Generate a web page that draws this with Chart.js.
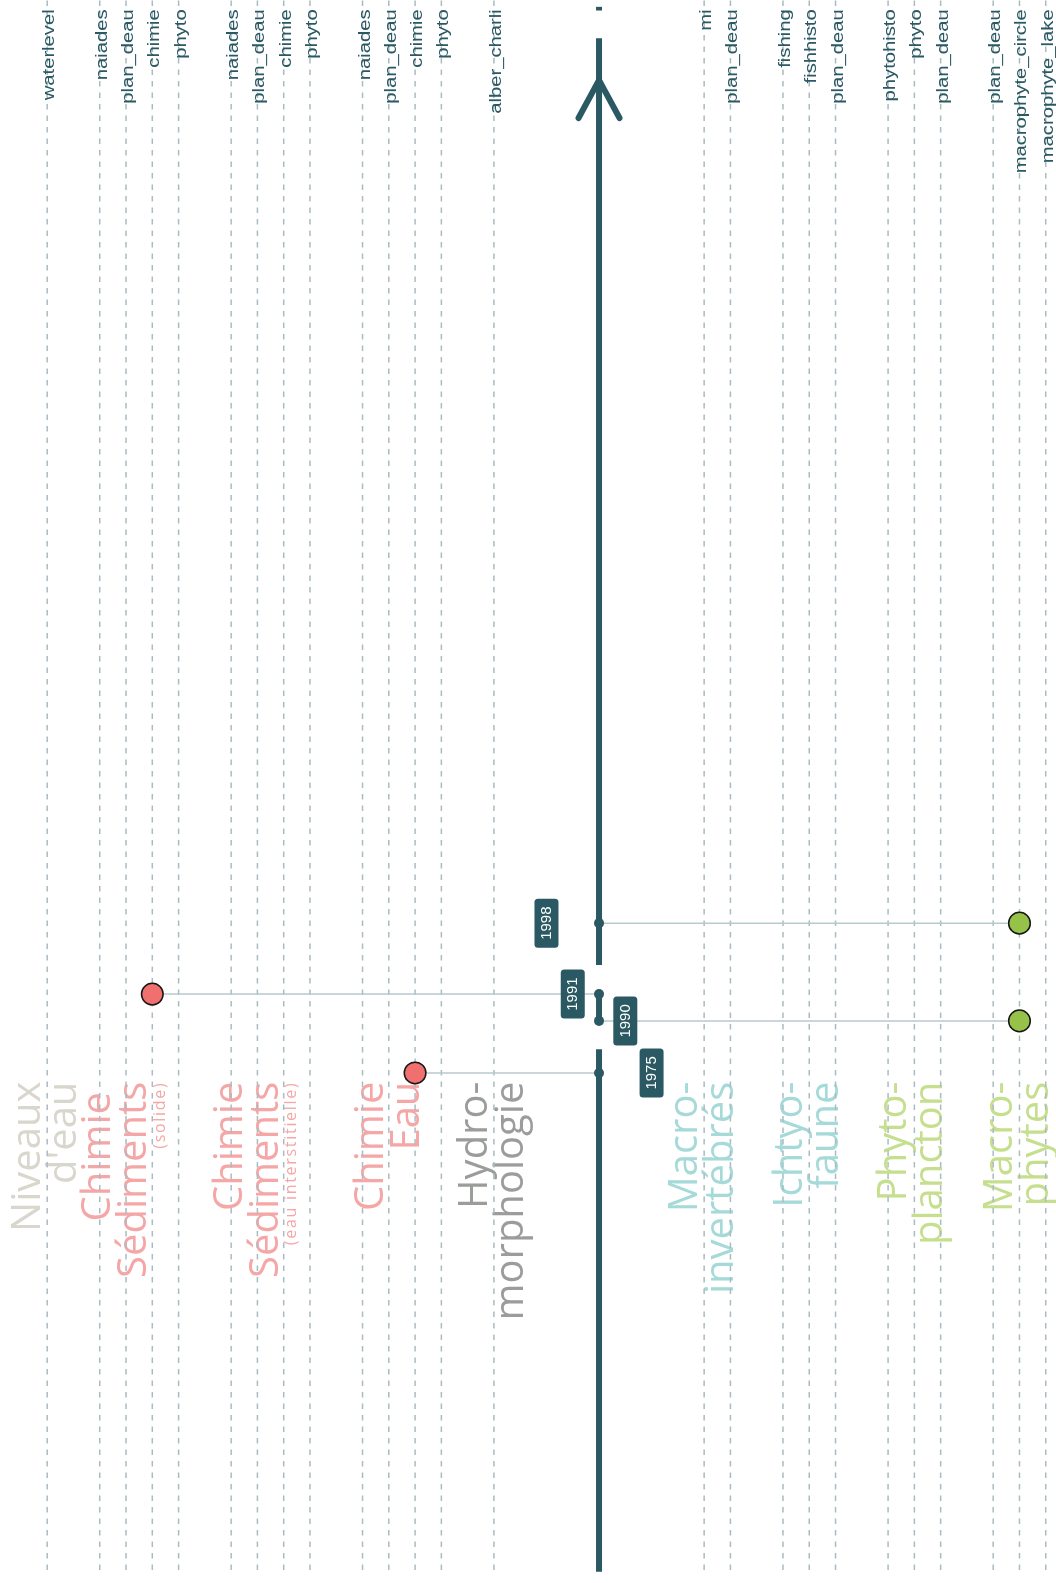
<!DOCTYPE html>
<html>
<head>
<meta charset="utf-8">
<script src="https://cdn.jsdelivr.net/npm/chart.js@4/dist/chart.umd.min.js"></script>
<style>
  html, body { margin: 0; padding: 0; background: #ffffff; }
  #wrap { width: 1056px; height: 1583px; position: relative; }
</style>
</head>
<body>
<div id="wrap"><canvas id="c"></canvas></div>
<script>
// ---------- data ----------
const columnSlots  = [0, 2, 3, 4, 5, 7, 8, 9, 10, 12, 13, 14, 15, 17, 25, 26, 28, 29, 30, 32, 33, 34, 36, 37, 38];
const columnLabels = ['waterlevel', 'naiades', 'plan_deau', 'chimie', 'phyto',
                      'naiades', 'plan_deau', 'chimie', 'phyto',
                      'naiades', 'plan_deau', 'chimie', 'phyto',
                      'alber_charli', 'mi', 'plan_deau',
                      'fishing', 'fishhisto', 'plan_deau',
                      'phytohisto', 'phyto', 'plan_deau',
                      'plan_deau', 'macrophyte_circle', 'macrophyte_lake'];

const eventYears   = ['1998', '1991', '1990', '1975'];
const eventPos     = [25.11, 22.41, 21.39, 19.41];   // position on the (broken) time axis
const eventColumn  = [37, 4, 37, 14];
const eventColors  = ['#97c24a', '#f07070', '#97c24a', '#f07070'];
const yearLabelSlot = [19, 20, 22, 23];

const axisSlot = 21;
const axisSegments = [[0.43, 20.31], [21.39, 22.41], [23.52, 58.78], [59.84, 59.98]];
const arrowApex = 57.19, arrowBase = 55.75, arrowHalf = 0.78;

const groupLines  = [['Niveaux', "d'eau"], ['Chimie ', 'Sédiments'], ['Chimie', 'Sédiments'],
                     ['Chimie', 'Eau'], ['Hydro-', 'morphologie'], ['Macro-', 'invertébrés'],
                     ['Ichtyo-', 'faune'], ['Phyto-', 'plancton'], ['Macro-', 'phytes']];
const groupSlot   = [-0.27, 2.39, 7.40, 12.77, 16.72, 24.71, 28.71, 32.68, 36.70];
const groupColors = ['#d9d7cd', '#f5a6a6', '#f5a6a6', '#f5a6a6', '#9b9d9b',
                     '#a5dad9', '#a5dad9', '#c6df8e', '#c6df8e'];
const subLabels   = ['(solide)', '(eau interstitielle)'];
const subSlot     = [4.47, 9.47];
const groupTopPos = 19.08;

const xMin = -1.796, xMax = 38.39, yMin = 0, yMax = 60.24;
const gridBottom = 0.49, gridTop = 60.24;

// ---------- colours / styles ----------
const AXIS = '#2a5863';
const GRID = '#a9bcc1';
const CONN = '#b9c9cd';

// ---------- datasets ----------
const datasets = [];

datasets.push({
  type: 'scatter', order: 0,
  data: eventPos.map((p, i) => ({ x: eventColumn[i], y: p })),
  pointRadius: 10.8, pointBackgroundColor: eventColors,
  pointBorderColor: '#161616', pointBorderWidth: 1.5, showLine: false
});
datasets.push({
  type: 'scatter', order: 1,
  data: eventPos.map(p => ({ x: axisSlot, y: p })),
  pointRadius: 5, pointBackgroundColor: AXIS, pointBorderWidth: 0, showLine: false
});
axisSegments.forEach(s => datasets.push({
  type: 'line', order: 2,
  data: [{ x: axisSlot, y: s[0] }, { x: axisSlot, y: s[1] }],
  borderColor: AXIS, borderWidth: 6, borderCapStyle: 'butt', pointRadius: 0
}));
datasets.push({
  type: 'line', order: 2,
  data: [{ x: axisSlot - arrowHalf, y: arrowBase }, { x: axisSlot, y: arrowApex }, { x: axisSlot + arrowHalf, y: arrowBase }],
  borderColor: AXIS, borderWidth: 6, borderCapStyle: 'round', borderJoinStyle: 'round', pointRadius: 0
});
eventPos.forEach((p, i) => datasets.push({
  type: 'line', order: 3,
  data: [{ x: axisSlot, y: p }, { x: eventColumn[i], y: p }],
  borderColor: CONN, borderWidth: 1.5, pointRadius: 0
}));
columnSlots.forEach(s => datasets.push({
  type: 'line', order: 4,
  data: [{ x: s, y: gridBottom }, { x: s, y: gridTop }],
  borderColor: GRID, borderWidth: 1.5, borderDash: [5.5, 6], pointRadius: 0
}));

// ---------- text plugins ----------
function vText(ctx, text, x, y, opt) {
  ctx.save();
  ctx.translate(x, y);
  ctx.rotate(-Math.PI / 2);
  if (opt.sx) ctx.scale(opt.sx, 1);
  ctx.font = opt.font;
  ctx.fillStyle = opt.color;
  ctx.textAlign = opt.align || 'right';
  ctx.textBaseline = opt.baseline || 'alphabetic';
  if (opt.spacing) ctx.letterSpacing = opt.spacing;
  ctx.fillText(text, 0, opt.dy || 0);
  ctx.restore();
}

const labelsPlugin = {
  id: 'labels',
  beforeDatasetsDraw(chart) {
    const ctx = chart.ctx, xs = chart.scales.x, ys = chart.scales.y;
    const top = ys.getPixelForValue(groupTopPos);
    groupLines.forEach((lines, i) => {
      const bx = xs.getPixelForValue(groupSlot[i]);
      lines.forEach((t, k) => vText(ctx, t, bx, top,
        { font: '40px "Open Sans"', color: groupColors[i], dy: k * 36.3 }));
    });
    subLabels.forEach((t, i) => vText(ctx, t, xs.getPixelForValue(subSlot[i]), top,
      { font: '16px "Open Sans"', color: '#f5a6a6', spacing: '1.7px' }));
  },
  afterDatasetsDraw(chart) {
    const ctx = chart.ctx, xs = chart.scales.x, ys = chart.scales.y;
    // column labels
    columnSlots.forEach((s, i) => {
      vText(ctx, columnLabels[i], xs.getPixelForValue(s) + 7, 9.3,
        { font: '15.8px "Liberation Sans", Arial, sans-serif', color: AXIS, sx: 1.28 });
    });
    // year boxes
    eventYears.forEach((yr, i) => {
      const cx = xs.getPixelForValue(yearLabelSlot[i]);
      const cy = ys.getPixelForValue(eventPos[i]);
      ctx.save();
      ctx.fillStyle = AXIS;
      ctx.beginPath();
      ctx.roundRect(cx - 12, cy - 24.5, 24, 49, 3.5);
      ctx.fill();
      ctx.restore();
      vText(ctx, yr, cx + 0.5, cy, { font: '15px "Liberation Sans", Arial, sans-serif',
        color: '#ffffff', align: 'center', baseline: 'middle' });
    });
  }
};

Promise.all([
  document.fonts.load('40px "Open Sans"'),
  document.fonts.load('16px "Liberation Sans"')
]).catch(() => {}).then(() => {
  new Chart(document.getElementById('c'), {
    data: { datasets },
    options: {
      responsive: true, maintainAspectRatio: false, animation: false,
      layout: { padding: 0, autoPadding: false },
      plugins: { legend: { display: false }, tooltip: { enabled: false } },
      scales: {
        x: { type: 'linear', min: xMin, max: xMax, display: false },
        y: { type: 'linear', min: yMin, max: yMax, display: false }
      },
      elements: { line: { tension: 0 } }
    },
    plugins: [labelsPlugin]
  });
});
</script>
</body>
</html>
